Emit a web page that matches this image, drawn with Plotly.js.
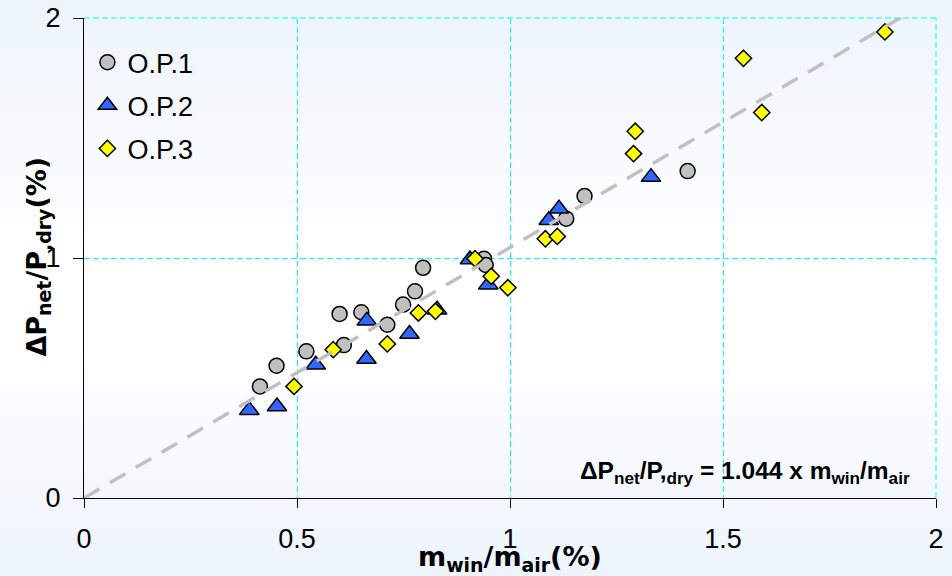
<!DOCTYPE html>
<html>
<head>
<meta charset="utf-8">
<script src="https://cdn.plot.ly/plotly-3.0.1.min.js"></script>
<style>
  html, body { margin: 0; padding: 0; width: 952px; height: 576px; overflow: hidden; }
  body { background: linear-gradient(to bottom, #EDF4FC 0%, #FFFFFF 45%, #FFFFFF 60%, #EDF4FC 100%); }
  #chart { width: 952px; height: 576px; }
</style>
</head>
<body>
<div id="chart"></div>
<script>
// O.P.1 (grey circles)
const op1X = [0.413, 0.452, 0.522, 0.600, 0.610, 0.651, 0.712, 0.749, 0.777, 0.796, 0.939, 0.943, 1.132, 1.175, 1.417];
const op1Y = [0.465, 0.551, 0.611, 0.767, 0.637, 0.774, 0.722, 0.806, 0.861, 0.959, 0.997, 0.971, 1.164, 1.258, 1.362];
// O.P.2 (blue triangles)
const op2X = [0.388, 0.453, 0.544, 0.664, 0.663, 0.764, 0.829, 0.906, 0.949, 1.091, 1.115, 1.331];
const op2Y = [0.366, 0.381, 0.555, 0.739, 0.579, 0.683, 0.784, 0.994, 0.889, 1.157, 1.205, 1.337];
// O.P.3 (yellow diamonds)
const op3X = [0.493, 0.585, 0.712, 0.785, 0.825, 0.918, 0.956, 0.995, 1.083, 1.111, 1.290, 1.294, 1.548, 1.591, 1.880];
const op3Y = [0.465, 0.618, 0.642, 0.771, 0.778, 0.997, 0.924, 0.876, 1.080, 1.090, 1.435, 1.528, 1.832, 1.606, 1.942];
// Fit line: dP/P = 1.044 x m_win/m_air
const fitX = [0, 2];
const fitY = [0, 2.088];
const seriesNames = ['O.P.1', 'O.P.2', 'O.P.3'];
const xTicks = [0, 0.5, 1, 1.5, 2];
const xTickText = ['0', '0.5', '1', '1.5', '2'];
const yTicks = [0, 1, 2];
const yTickText = ['0', '1', '2'];

const tickFont = { family: 'Liberation Sans, Arial, sans-serif', size: 27, color: '#000000' };
const titleFont = { family: 'DejaVu Sans, Verdana, sans-serif', size: 27, color: '#000000' };

const traces = [
  { x: op1X, y: op1Y, name: seriesNames[0], type: 'scatter', mode: 'markers', legendgroup: 'g1',
    marker: { symbol: 'circle', size: 15, color: '#C0C0C0', line: { color: '#000000', width: 1.5 } } },
  { x: op2X, y: op2Y, name: seriesNames[1], type: 'scatter', mode: 'markers', legendgroup: 'g2',
    marker: { symbol: 'triangle-up', size: 17, color: '#3366FF', line: { color: '#000000', width: 1.5 } } },
  { x: op3X, y: op3Y, name: seriesNames[2], type: 'scatter', mode: 'markers', legendgroup: 'g3',
    marker: { symbol: 'diamond', size: 12.5, color: '#FFFF00', line: { color: '#000000', width: 1.5 } } },
  { x: fitX, y: fitY, type: 'scatter', mode: 'lines', showlegend: false, hoverinfo: 'skip',
    line: { color: '#C0C0C0', width: 3.5, dash: '18px,12px' } }
];

const layout = {
  width: 952, height: 576,
  margin: { l: 84, r: 16, t: 18, b: 78, pad: 0 },
  paper_bgcolor: 'rgba(0,0,0,0)',
  plot_bgcolor: 'rgba(0,0,0,0)',
  showlegend: true,
  legend: {
    x: 0.004, y: 0.958, xanchor: 'left', yanchor: 'top',
    bgcolor: 'rgba(0,0,0,0)', borderwidth: 0,
    font: { family: 'Liberation Sans, Arial, sans-serif', size: 27, color: '#000000' },
    traceorder: 'grouped', tracegroupgap: 5, itemwidth: 30
  },
  xaxis: {
    range: [0, 2], tickvals: xTicks, ticktext: xTickText,
    showline: true, linecolor: '#000000', linewidth: 1,
    ticks: 'outside', ticklen: 9, tickwidth: 1, tickcolor: '#000000',
    ticklabelstandoff: 8,
    showgrid: true, gridcolor: '#00FFFF', gridwidth: 1, griddash: '6px,3px',
    zeroline: false, tickfont: tickFont, fixedrange: true
  },
  yaxis: {
    range: [0, 2], tickvals: yTicks, ticktext: yTickText,
    showline: true, linecolor: '#000000', linewidth: 1,
    ticks: 'outside', ticklen: 10, tickwidth: 1, tickcolor: '#000000',
    ticklabelstandoff: 7,
    showgrid: true, gridcolor: '#00FFFF', gridwidth: 1, griddash: '6px,3px',
    zeroline: false, tickfont: tickFont, fixedrange: true
  },
  shapes: [
    { type: 'line', xref: 'paper', yref: 'paper', x0: 0, x1: 1, y0: 1, y1: 1,
      line: { color: '#00FFFF', width: 1, dash: '6px,3px' }, layer: 'below' },
    { type: 'line', xref: 'paper', yref: 'paper', x0: 1, x1: 1, y0: 0, y1: 1,
      line: { color: '#00FFFF', width: 1, dash: '6px,3px' }, layer: 'below' }
  ],
  annotations: [
    { text: '<b>m<sub>win</sub>/m<sub>air</sub>(%)</b>', xref: 'paper', yref: 'paper',
      x: 0.5, y: -0.125, xanchor: 'center', yanchor: 'middle', showarrow: false, font: titleFont },
    { text: '<b>ΔP<sub>net</sub>/P<sub>,dry</sub>(%)</b>', xref: 'paper', yref: 'paper',
      x: -0.0545, y: 0.502, xanchor: 'center', yanchor: 'middle', textangle: -90, showarrow: false, font: titleFont },
    { text: '<b>ΔP<sub>net</sub>/P,<sub>dry</sub> = 1.044 x m<sub>win</sub>/m<sub>air</sub></b>', xref: 'paper', yref: 'paper',
      x: (912 - 84) / 852, y: (498 - 472) / 480, xanchor: 'right', yanchor: 'middle', showarrow: false,
      font: { family: 'Liberation Sans, Arial, sans-serif', size: 24.5, color: '#000000' } }
  ]
};

Plotly.newPlot('chart', traces, layout, { staticPlot: true, displayModeBar: false });
</script>
</body>
</html>
